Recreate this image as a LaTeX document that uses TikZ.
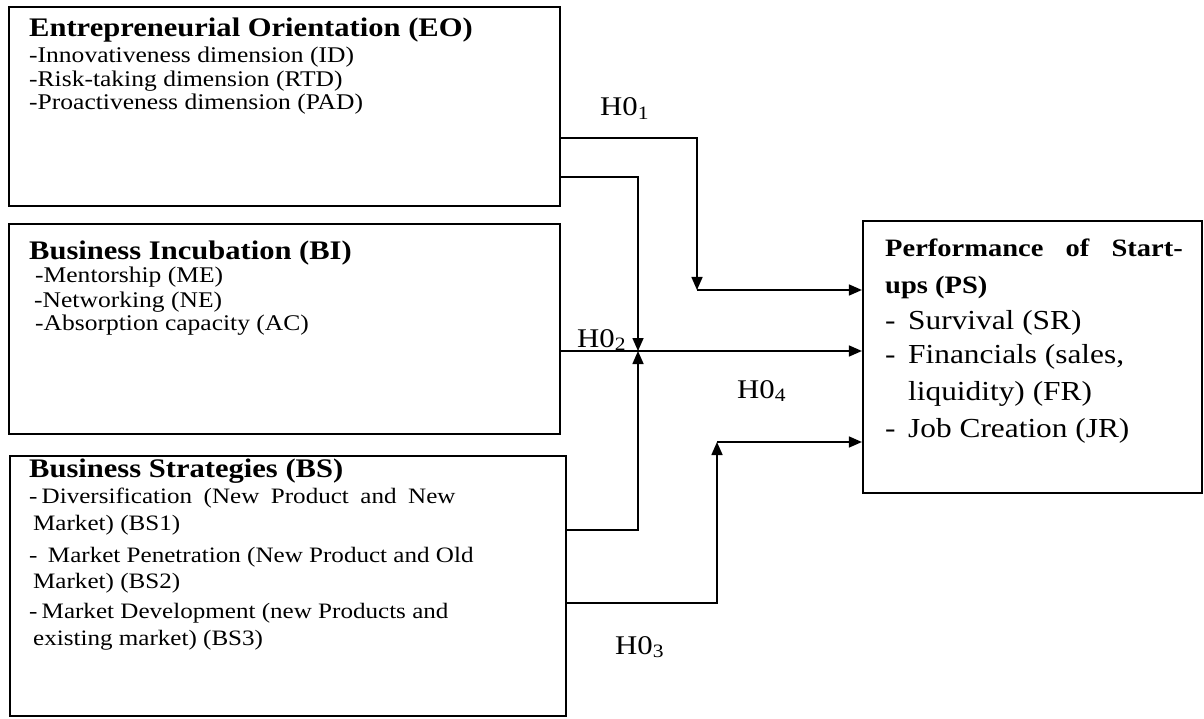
\documentclass[tikz,border=0pt]{standalone}
\usepackage{graphicx}
\usepackage{fontspec}
\setmainfont{Liberation Serif}
\usetikzlibrary{arrows.meta}
\newcommand{\stretchtxt}[1]{\scalebox{1.14}[1]{#1}}
\begin{document}
\begin{tikzpicture}[x=1pt,y=-1pt,
  box/.style={draw, line width=2.2pt, rectangle, inner sep=0pt},
  conn/.style={line width=1.6pt},
  arr/.style={conn, -{Triangle[length=13pt,width=11pt]}},
  txt/.style={anchor=base west, inner sep=0pt, font=\fontsize{22.4}{24}\selectfont},
  bstxt/.style={anchor=base west, inner sep=0pt, font=\fontsize{22}{26}\selectfont},
  pstxt/.style={anchor=base west, inner sep=0pt, font=\fontsize{27.5}{30}\selectfont},
  ttl/.style={anchor=base west, inner sep=0pt, font=\bfseries\fontsize{26.8}{30}\selectfont},
  psttl/.style={anchor=base west, inner sep=0pt, font=\bfseries\fontsize{25}{28}\selectfont},
  lbl/.style={anchor=base west, inner sep=0pt, font=\fontsize{27}{30}\selectfont}]
\useasboundingbox[fill=white] (0,0) rectangle (1204,719);

% boxes
\node[box, minimum width=551pt, minimum height=199pt] (EO) at (284.5,106.5) {};
\node[box, minimum width=551pt, minimum height=210pt] (BI) at (284.5,329) {};
\node[box, minimum width=556pt, minimum height=260pt] (BS) at (288,586) {};
\node[box, minimum width=339pt, minimum height=272pt] (PS) at (1032.5,357) {};

% EO text
\node[ttl] (eot) at (29,37) {\stretchtxt{Entrepreneurial Orientation (EO)}};
\node[txt] (eo1) at (29,63) {\stretchtxt{-Innovativeness dimension (ID)}};
\node[txt] (eo2) at (29,87) {\stretchtxt{-Risk-taking dimension (RTD)}};
\node[txt] (eo3) at (29,110) {\stretchtxt{-Proactiveness dimension (PAD)}};

% BI text
\node[ttl] (bit) at (29,260) {\stretchtxt{Business Incubation (BI)}};
\node[txt] (bi1) at (35,283) {\stretchtxt{-Mentorship (ME)}};
\node[txt] (bi2) at (34,307) {\stretchtxt{-Networking (NE)}};
\node[txt] (bi3) at (35,330) {\stretchtxt{-Absorption capacity (AC)}};

% BS text
\node[ttl] (bst) at (29,477) {\stretchtxt{Business Strategies (BS)}};
\node[bstxt] (bs1) at (29,503) {\stretchtxt{\makebox[374pt][s]{-\,Diversification (New Product and New}}};
\node[bstxt] (bs1b) at (33,530) {\stretchtxt{Market) (BS1)}};
\node[bstxt] (bs2) at (29,562) {\stretchtxt{-\ \,Market Penetration (New Product and Old}};
\node[bstxt] (bs2b) at (33,588) {\stretchtxt{Market) (BS2)}};
\node[bstxt] (bs3) at (29,618) {\stretchtxt{-\,Market Development (new Products and}};
\node[bstxt] (bs3b) at (33,645) {\stretchtxt{existing market) (BS3)}};

% PS text
\node[psttl] (pst1) at (885,257) {\stretchtxt{\makebox[261pt][s]{Performance of Start-}}};
\node[psttl] (pst2) at (885,294) {\stretchtxt{ups (PS)}};
\node[pstxt] (psd1) at (885,329) {\stretchtxt{-}};
\node[pstxt] (ps1) at (908,329) {\stretchtxt{Survival (SR)}};
\node[pstxt] (psd2) at (885,363) {\stretchtxt{-}};
\node[pstxt] (ps2) at (908,363) {\stretchtxt{Financials (sales,}};
\node[pstxt] (ps2b) at (908,400) {\stretchtxt{liquidity) (FR)}};
\node[pstxt] (psd3) at (885,437) {\stretchtxt{-}};
\node[pstxt] (ps3) at (908,437) {\stretchtxt{Job Creation (JR)}};

% labels
\node[lbl] (h1) at (600,116) {\stretchtxt{H0\textsubscript{1}}};
\node[lbl] (h2) at (577,347) {\stretchtxt{H0\textsubscript{2}}};
\node[lbl] (h4) at (737,398) {\stretchtxt{H0\textsubscript{4}}};
\node[lbl] (h3) at (615,654) {\stretchtxt{H0\textsubscript{3}}};

% bend points
\coordinate (b1) at (697,138);
\coordinate (j1) at (697,290);
\coordinate (b2) at (638,177);
\coordinate (j2) at (638,351);
\coordinate (b4) at (638,530);
\coordinate (b5) at (717,603);
\coordinate (j5) at (717,442);

% connectors
\draw[arr] (EO.east |- b1) -- (b1) -- (j1);
\draw[arr] (j1) -- (PS.west |- j1);
\draw[arr] (EO.east |- b2) -- (b2) -- (j2);
\draw[arr] (BI.east |- j2) -- (PS.west |- j2);
\draw[arr] (BS.east |- b4) -- (b4) -- (j2);
\draw[arr] (BS.east |- b5) -- (b5) -- (j5);
\draw[arr] (j5) -- (PS.west |- j5);
\end{tikzpicture}
\end{document}
